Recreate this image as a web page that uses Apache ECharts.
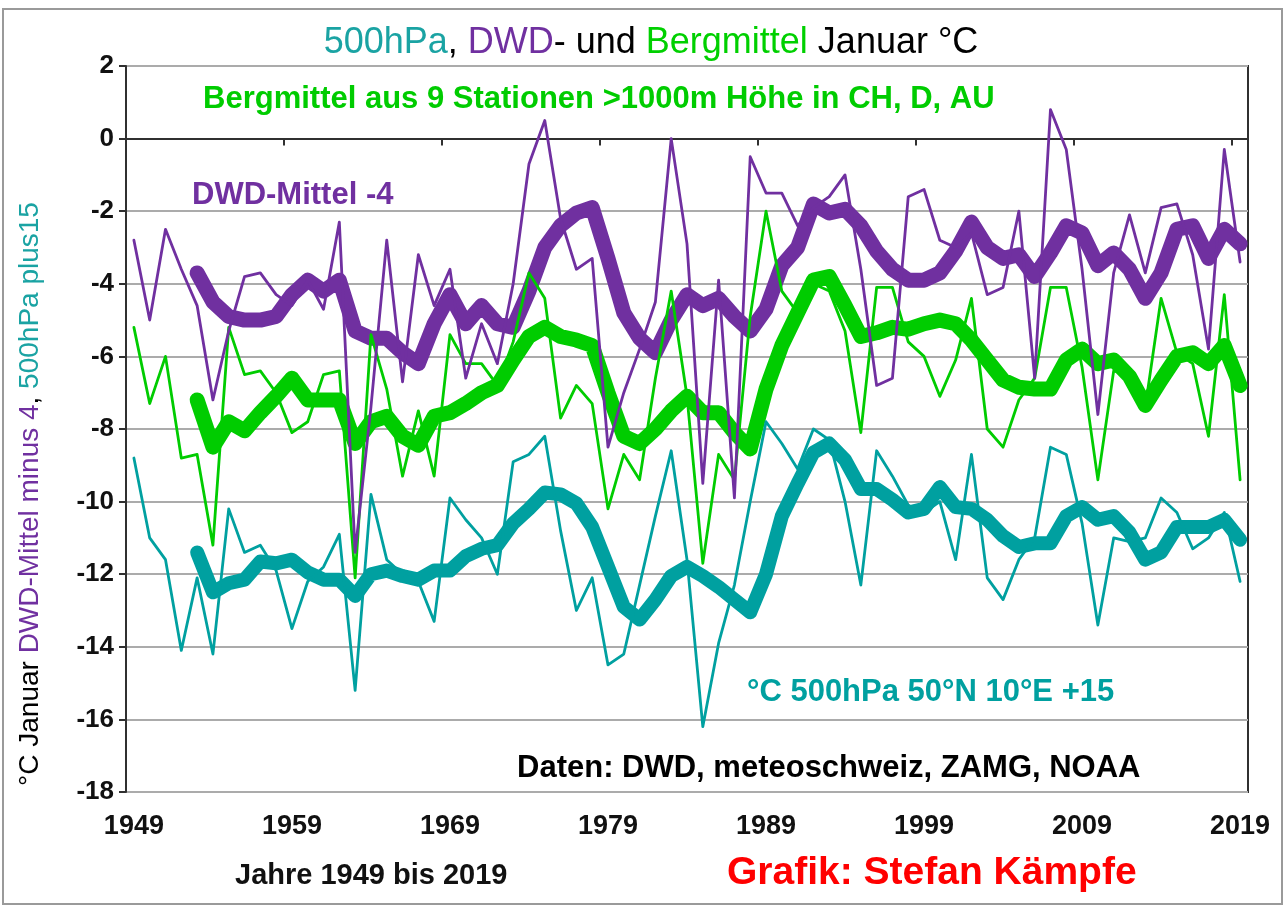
<!DOCTYPE html>
<html>
<head>
<meta charset="utf-8">
<script src="https://cdn.jsdelivr.net/npm/echarts@6/dist/echarts.min.js"></script>
<style>
  html, body { margin: 0; padding: 0; background: #fff; }
  #chart { width: 1286px; height: 909px; }
</style>
</head>
<body>
<div id="chart"></div>
<script>
// Jahre 1949 bis 2019 (Kategorien)
const years = []
for (let y = 1949; y <= 2019; y++) years.push(String(y))

// DWD-Mittel Januar minus 4 (dünne Linie)
const dwdJan = [
  -2.8, -5.0, -2.5, -3.6, -4.6, -7.2, -5.3, -3.8, -3.7, -4.3,
  -4.6, -3.9, -4.7, -2.3, -11.4, -7.4, -2.8, -6.7, -3.2, -4.6,
  -3.6, -6.6, -5.1, -6.2, -4.0, -0.7, 0.5, -2.2, -3.6, -3.3,
  -8.5, -7.0, -5.8, -4.5, 0.0, -2.9, -9.5, -3.9, -9.9, -0.5,
  -1.5, -1.5, -2.4, -1.9, -1.6, -1.0, -3.6, -6.8, -6.6, -1.6,
  -1.4, -2.8, -3.0, -2.6, -4.3, -4.1, -2.0, -6.6, 0.8, -0.3,
  -3.6, -7.6, -3.7, -2.1, -3.7, -1.9, -1.8, -3.2, -5.8, -0.3,
  -3.4,
]

// Bergmittel aus 9 Stationen (dünne Linie)
const bergJan = [
  -5.2, -7.3, -6.0, -8.8, -8.7, -11.2, -5.2, -6.5, -6.4, -7.0,
  -8.1, -7.8, -6.5, -6.4, -12.1, -5.4, -6.9, -9.3, -7.5, -9.3,
  -5.4, -6.2, -6.2, -6.8, -5.6, -3.7, -4.4, -7.7, -6.8, -7.3,
  -10.2, -8.7, -9.4, -6.6, -4.2, -7.1, -11.7, -8.7, -9.4, -4.9,
  -2.0, -4.2, -4.8, -4.0, -4.2, -5.3, -8.1, -4.1, -4.1, -5.6,
  -6.0, -7.1, -6.1, -4.4, -8.0, -8.5, -7.2, -6.6, -4.1, -4.1,
  -6.3, -9.4, -6.4, -6.5, -7.4, -4.4, -5.9, -6.2, -8.2, -4.3,
  -9.4,
]

// 500hPa 50°N 10°E plus 15 (dünne Linie)
const hpaJan = [
  -8.8, -11.0, -11.6, -14.1, -12.1, -14.2, -10.2, -11.4, -11.2, -11.9,
  -13.5, -12.2, -11.8, -10.9, -15.2, -9.8, -11.6, -12.0, -12.2, -13.3,
  -9.9, -10.5, -11.0, -12.0, -8.9, -8.7, -8.2, -10.8, -13.0, -12.1,
  -14.5, -14.2, -12.3, -10.4, -8.6, -11.6, -16.2, -13.9, -12.3, -10.0,
  -7.8, -8.4, -9.1, -8.0, -8.3, -10.0, -12.3, -8.6, -9.3, -10.1,
  -10.3, -10.0, -11.6, -8.7, -12.1, -12.7, -11.6, -11.0, -8.5, -8.7,
  -10.6, -13.4, -11.0, -11.1, -11.0, -9.9, -10.3, -11.3, -11.0, -10.3,
  -12.2,
]

// gleitende Mittel (dicke Linien), Beginn 1953
const dwdAvg = [
  null, null, null, null, -3.7, -4.5, -4.9, -5.0, -5.0, -4.9,
  -4.3, -3.9, -4.2, -3.9, -5.3, -5.5, -5.5, -5.9, -6.2, -5.1,
  -4.3, -5.1, -4.6, -5.1, -5.2, -4.2, -3.0, -2.4, -2.05, -1.9,
  -3.3, -4.8, -5.5, -5.9, -5.0, -4.3, -4.6, -4.4, -4.9, -5.3,
  -4.7, -3.5, -3.0, -1.8, -2.05, -1.95, -2.4, -3.1, -3.6, -3.9,
  -3.9, -3.7, -3.1, -2.3, -3.0, -3.3, -3.2, -3.8, -3.15, -2.4,
  -2.6, -3.5, -3.15, -3.6, -4.4, -3.7, -2.5, -2.4, -3.3, -2.5,
  -2.9,
]
const bergAvg = [
  null, null, null, null, -7.2, -8.5, -7.8, -8.05, -7.55, -7.1,
  -6.6, -7.2, -7.2, -7.2, -8.4, -7.8, -7.65, -8.2, -8.45, -7.65,
  -7.55, -7.3, -7.0, -6.8, -6.1, -5.45, -5.2, -5.45, -5.55, -5.7,
  -7.0, -8.2, -8.4, -8.0, -7.5, -7.1, -7.55, -7.55, -8.1, -8.55,
  -6.9, -5.7, -4.8, -3.9, -3.8, -4.6, -5.45, -5.35, -5.2, -5.25,
  -5.1, -5.0, -5.1, -5.55, -6.1, -6.65, -6.85, -6.9, -6.9, -6.1,
  -5.8, -6.2, -6.1, -6.55, -7.35, -6.65, -6.0, -5.9, -6.2, -5.7,
  -6.8,
]
const hpaAvg = [
  null, null, null, null, -11.4, -12.5, -12.25, -12.15, -11.65, -11.7,
  -11.6, -11.95, -12.15, -12.15, -12.6, -12.0, -11.9, -12.05, -12.15, -11.9,
  -11.9, -11.5, -11.3, -11.2, -10.6, -10.2, -9.75, -9.8, -10.05, -10.7,
  -11.8, -12.9, -13.25, -12.7, -12.05, -11.8, -12.05, -12.35, -12.7, -13.05,
  -12.0, -10.4, -9.5, -8.65, -8.4, -8.85, -9.65, -9.65, -9.95, -10.3,
  -10.2, -9.6, -10.15, -10.2, -10.5, -10.95, -11.25, -11.15, -11.15, -10.4,
  -10.15, -10.5, -10.4, -10.85, -11.6, -11.4, -10.7, -10.7, -10.7, -10.5,
  -11.05,
]

const PURPLE = '#7030a0'
const GREEN = '#00cc00'
const TEAL = '#00a0a0'
const FONT = "'Liberation Sans', Arial, sans-serif"

const chart = echarts.init(document.getElementById('chart'), null, { renderer: 'canvas' })

function line(name, data, color, width) {
  return {
    name: name,
    type: 'line',
    data: data,
    symbol: 'none',
    smooth: false,
    connectNulls: false,
    lineStyle: { color: color, width: width, join: 'round', cap: 'round' },
    itemStyle: { color: color },
  }
}

const option = {
  animation: false,
  backgroundColor: '#ffffff',
  grid: {
    left: 126, right: 38, top: 66, bottom: 117,
    show: true, borderColor: '#303030', borderWidth: 2,
  },
  xAxis: {
    type: 'category',
    data: years,
    boundaryGap: true,
    axisLine: { show: true, lineStyle: { color: '#303030', width: 2 } },
    axisTick: { show: true, interval: 9, length: 7, lineStyle: { color: '#303030', width: 2 } },
    axisLabel: {
      interval: 9, margin: 21,
      color: '#111', fontFamily: FONT, fontWeight: 'bold', fontSize: 27,
    },
    splitLine: { show: false },
  },
  yAxis: {
    type: 'value',
    min: -18, max: 2, interval: 2,
    axisLine: { show: true, lineStyle: { color: '#303030', width: 2 } },
    axisTick: { show: true, length: 7, lineStyle: { color: '#303030', width: 2 } },
    axisLabel: {
      margin: 12,
      color: '#111', fontFamily: FONT, fontWeight: 'bold', fontSize: 26,
    },
    splitLine: { show: true, lineStyle: { color: '#ababab', width: 2 } },
  },
  series: [
    line('500hPa Mittel', hpaAvg, TEAL, 14),
    line('Bergmittel Mittel', bergAvg, GREEN, 15),
    line('DWD Mittel', dwdAvg, PURPLE, 15),
    line('500hPa', hpaJan, TEAL, 2.8),
    line('Bergmittel', bergJan, GREEN, 2.8),
    line('DWD', dwdJan, PURPLE, 2.8),
  ],
  graphic: [
    // Rahmen ums Bild
    {
      type: 'rect', z: -10, silent: true,
      shape: { x: 3, y: 9, width: 1279, height: 895 },
      style: { fill: 'none', stroke: '#9a9a9a', lineWidth: 2 },
    },
    {
      type: 'text', x: 651, y: 43,
      style: {
        text: '{t|500hPa}{k|, }{p|DWD}{k|- und }{g|Bergmittel}{k| Januar °C}',
        textAlign: 'center', textVerticalAlign: 'middle',
        font: '36px ' + FONT,
        rich: {
          t: { fill: '#1aa3a3', fontSize: 36, fontFamily: FONT },
          p: { fill: PURPLE, fontSize: 36, fontFamily: FONT },
          g: { fill: '#00d000', fontSize: 36, fontFamily: FONT },
          k: { fill: '#000', fontSize: 36, fontFamily: FONT },
        },
      },
    },
    {
      type: 'text', x: 30, y: 494, rotation: Math.PI / 2,
      style: {
        text: '{k|°C Januar }{p|DWD-Mittel minus 4}{k|, }{t|500hPa plus15}',
        textAlign: 'center', textVerticalAlign: 'middle',
        font: '28px ' + FONT,
        rich: {
          k: { fill: '#000', fontSize: 28, fontFamily: FONT },
          p: { fill: PURPLE, fontSize: 28, fontFamily: FONT },
          t: { fill: '#1aa3a3', fontSize: 28, fontFamily: FONT },
        },
      },
    },
    {
      type: 'text', x: 203, y: 99,
      style: { text: 'Bergmittel aus 9 Stationen >1000m Höhe in CH, D, AU', fill: GREEN,
        font: 'bold 31px ' + FONT, textAlign: 'left', textVerticalAlign: 'middle' },
    },
    {
      type: 'text', x: 192, y: 195,
      style: { text: 'DWD-Mittel -4', fill: PURPLE,
        font: 'bold 31px ' + FONT, textAlign: 'left', textVerticalAlign: 'middle' },
    },
    {
      type: 'text', x: 747, y: 692,
      style: { text: '°C 500hPa 50°N 10°E +15', fill: TEAL,
        font: 'bold 31px ' + FONT, textAlign: 'left', textVerticalAlign: 'middle' },
    },
    {
      type: 'text', x: 517, y: 768,
      style: { text: 'Daten: DWD, meteoschweiz, ZAMG, NOAA', fill: '#000',
        font: 'bold 31px ' + FONT, textAlign: 'left', textVerticalAlign: 'middle' },
    },
    {
      type: 'text', x: 235, y: 876,
      style: { text: 'Jahre 1949 bis 2019', fill: '#111',
        font: 'bold 29px ' + FONT, textAlign: 'left', textVerticalAlign: 'middle' },
    },
    {
      type: 'text', x: 727, y: 873,
      style: { text: 'Grafik: Stefan Kämpfe', fill: '#ff0000',
        font: 'bold 39px ' + FONT, textAlign: 'left', textVerticalAlign: 'middle' },
    },
  ],
}

chart.setOption(option)
</script>
</body>
</html>
